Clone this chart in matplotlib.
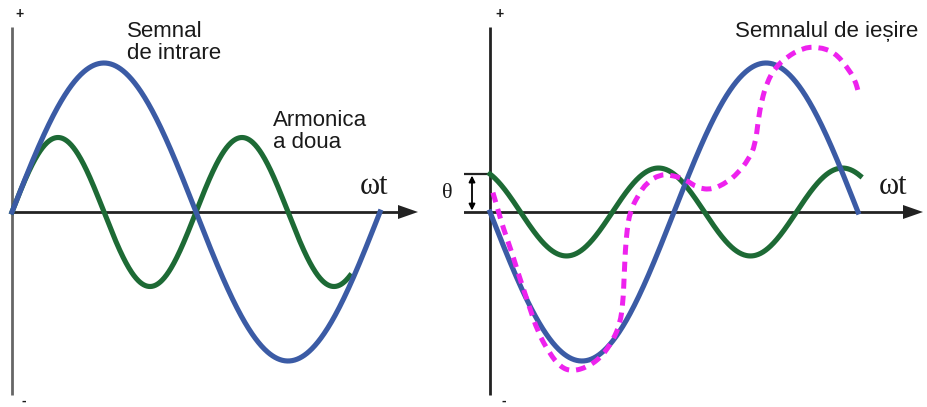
import numpy as np
import matplotlib
matplotlib.use("Agg")
import matplotlib.pyplot as plt
from matplotlib.path import Path
from matplotlib.patches import PathPatch, Polygon

# ---- signal parameters (amplitudes relative to the input signal) ----
input_amp = 1.0                 # fundamental, one full period per panel
harm_in_amp = 0.5               # second harmonic, in phase (left panel)
harm_out_amp = 0.295            # second harmonic after the stage (right panel)
harm_out_phase = 0.53           # phase shift theta of the harmonic, rad
harm_in_end = 5.77              # where the left harmonic trace stops (omega t)
harm_out_end = 6.32             # where the right harmonic trace stops (omega t)

# output signal (dashed trace), read as omega t / amplitude pairs
out_wt = [0.05, 0.14, 0.22, 0.38, 0.48, 0.65, 0.82, 1.02, 1.20, 1.40, 1.67,
          1.91, 2.10, 2.22, 2.27, 2.29, 2.31, 2.34, 2.39, 2.51, 2.68, 2.90,
          3.07, 3.33, 3.55, 3.79, 4.05, 4.23, 4.41, 4.53, 4.58, 4.64, 4.73,
          4.87, 5.07, 5.33, 5.60, 5.89, 6.10, 6.23, 6.30]
out_val = [0.13, 0.01, -0.10, -0.28, -0.41, -0.61, -0.81, -0.95, -1.04, -1.07,
           -1.04, -0.97, -0.86, -0.75, -0.61, -0.44, -0.26, -0.12, 0.00, 0.10,
           0.20, 0.25, 0.25, 0.22, 0.16, 0.15, 0.20, 0.26, 0.35, 0.45, 0.62,
           0.75, 0.87, 0.97, 1.04, 1.10, 1.11, 1.07, 0.97, 0.89, 0.79]

labels_left = ["Semnal\nde intrare", "Armonica\na doua"]
label_right = "Semnalul de ieșire"
axis_label = "ωt"
phase_label = "θ"

BLUE = "#3b5ba5"
GREEN = "#1d6a35"
MAGENTA = "#ee22ee"
AXIS = "#222222"

W, H = 927, 407
fig = plt.figure(figsize=(W / 100, H / 100), dpi=100)
fig.patch.set_facecolor("white")

period_px = 368.0
amp_px = 149.0
k = 2 * np.pi / period_px
y0_px = 212.0


def make_axes(rect, origin_px, left_px, right_px):
    ax = fig.add_axes(rect)
    ax.set_xlim((left_px - origin_px) * k, (right_px - origin_px) * k)
    ax.set_ylim((y0_px - H) / amp_px, y0_px / amp_px)
    ax.axis("off")
    return ax


axL = make_axes([0, 0, 0.5, 1], 12, 0, W / 2)
axR = make_axes([0.5, 0, 0.5, 1], 490, W / 2, W)

v_top = (y0_px - 27) / amp_px
v_bot = (y0_px - 395) / amp_px
head_len = 20 * k
head_half = 7 / amp_px


def draw_axes(ax, x_start, x_tip, color):
    ax.plot([0, 0], [v_bot, v_top], color=color, lw=2.0, solid_capstyle="butt", zorder=1)
    ax.plot([x_start, x_tip - head_len * 0.5], [0, 0], color=AXIS, lw=2.0,
            solid_capstyle="butt", zorder=1)
    ax.add_patch(Polygon([[x_tip, 0], [x_tip - head_len, head_half],
                          [x_tip - head_len, -head_half]], closed=True,
                         facecolor=AXIS, edgecolor="none", zorder=1))


draw_axes(axL, 0, (418 - 12) * k, "#666666")
draw_axes(axR, (460 - 490) * k, (923 - 490) * k, AXIS)

lw = 3.7

# left panel: input signal and its in-phase second harmonic
t = np.linspace(0, 2 * np.pi, 600)
axL.plot(t, input_amp * np.sin(t), color=BLUE, lw=lw, zorder=3)
th = np.linspace(0, harm_in_end, 600)
axL.plot(th, harm_in_amp * np.sin(2 * th), color=GREEN, lw=lw, zorder=2)

# right panel: inverted input, shifted harmonic, distorted output
axR.plot(t, -input_amp * np.sin(t), color=BLUE, lw=lw, zorder=3)
th2 = np.linspace(0, harm_out_end, 600)
axR.plot(th2, harm_out_amp * np.cos(2 * th2 + harm_out_phase),
         color=GREEN, lw=lw, zorder=2)

pts = np.column_stack([out_wt, out_val])
verts = [pts[0]]
codes = [Path.MOVETO]
for i in range(1, len(pts) - 1):
    verts += [pts[i], (pts[i] + pts[i + 1]) / 2]
    codes += [Path.CURVE3, Path.CURVE3]
verts.append(pts[-1])
codes.append(Path.LINETO)
axR.add_patch(PathPatch(Path(verts, codes), fill=False, edgecolor=MAGENTA,
                        lw=3.6, linestyle=(0, (2.0, 1.4)), capstyle="butt",
                        zorder=4))

# phase offset marker
theta_v = harm_out_amp * np.cos(harm_out_phase)
axR.plot([(460 - 490) * k, 0], [theta_v, theta_v], color=AXIS, lw=1.6, zorder=1)
axR.annotate("", xy=((472 - 490) * k, 0.01), xytext=((472 - 490) * k, theta_v - 0.01),
             arrowprops=dict(arrowstyle="<|-|>", color="black", lw=1.3,
                             mutation_scale=9, shrinkA=0, shrinkB=0))


def ftext(x, y, s, **kw):
    fig.text(x / W, 1 - y / H, s, **kw)


sans = dict(family=["Liberation Sans", "DejaVu Sans"], color="#1a1a1a")
serif = dict(family=["Liberation Serif", "DejaVu Serif"], color="#1a1a1a")

ftext(127, 59, labels_left[0], fontsize=16, va="baseline", linespacing=1.05, **sans)
ftext(273, 148, labels_left[1], fontsize=16, va="baseline", linespacing=1.05, **sans)
ftext(735, 37, label_right, fontsize=16, va="baseline", **sans)
ftext(360, 194, axis_label, fontsize=22, va="baseline", **serif)
ftext(879, 194, axis_label, fontsize=22, va="baseline", **serif)
ftext(447, 193, phase_label, fontsize=16, va="center", ha="center", **serif)

for xp in (20, 500):
    ftext(xp, 14, "+", fontsize=10, va="center", ha="center", weight="bold", **sans)
    ftext(xp + 4, 401, "-", fontsize=10, va="center", ha="center", weight="bold", **sans)

fig.savefig("out.png", dpi=100, facecolor="white")
